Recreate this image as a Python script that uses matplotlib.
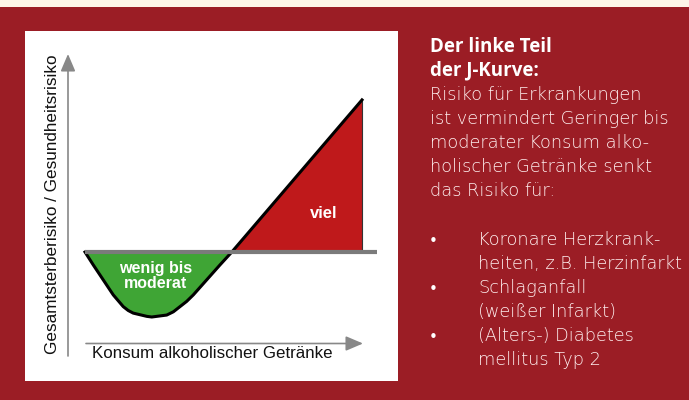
import matplotlib
matplotlib.use("Agg")
import matplotlib.pyplot as plt
from matplotlib.patches import Rectangle

# J-curve (consumption units, risk units; 0 = baseline)
consumption = [0.0, 0.30, 0.66, 1.02, 1.20, 1.38, 1.56, 1.74, 2.23, 2.41, 2.95, 3.19,
               3.43, 3.67, 3.91, 4.39, 4.87, 5.30, 10.0]
risk = [0.0, -0.20, -0.43, -0.66, -0.75, -0.84, -0.90, -0.94, -0.99, -1.0, -0.97, -0.92,
        -0.84, -0.76, -0.66, -0.43, -0.20, 0.0, 2.34]
crossing = 5.30   # where the curve goes back over the baseline

x_label = "Konsum alkoholischer Getränke"
y_label = "Gesamtsterberisiko / Gesundheitsrisiko"
low_label = "wenig bis\nmoderat"
high_label = "viel"

heading = ["Der linke Teil", "der J-Kurve:"]
body = ["Risiko für Erkrankungen", "ist vermindert Geringer bis",
        "moderater Konsum alko-", "holischer Getränke senkt", "das Risiko für:"]
bullets = [["Koronare Herzkrank-", "heiten, z.B. Herzinfarkt"],
           ["Schlaganfall", "(weißer Infarkt)"],
           ["(Alters-) Diabetes", "mellitus Typ 2"]]

BG_RED = "#9b1d25"
CREAM = "#fdf5e8"
GREEN = "#3fa535"
RED = "#bf191b"
GRAY = "#7b7b7b"
ARROW = "#888888"
TEXT = "#fff0f0"

W, H = 689, 400
fig = plt.figure(figsize=(W / 100, H / 100), dpi=100, facecolor=BG_RED)

# layout axes in pixel units
bg = fig.add_axes([0, 0, 1, 1])
bg.set_xlim(0, W)
bg.set_ylim(H, 0)
bg.axis("off")
bg.add_patch(Rectangle((0, 0), W, 6.5, color=CREAM, lw=0))
bg.add_patch(Rectangle((25, 31), 373, 350, color="white", lw=0))

# axis arrows
bg.annotate("", xy=(68, 54), xytext=(68, 356),
            arrowprops=dict(arrowstyle="-|>,head_length=0.75,head_width=0.32",
                            color=ARROW, lw=1.2, mutation_scale=14, shrinkA=0, shrinkB=0))
bg.annotate("", xy=(363, 343.5), xytext=(86, 343.5),
            arrowprops=dict(arrowstyle="-|>,head_length=0.75,head_width=0.32",
                            color=ARROW, lw=1.2, mutation_scale=14, shrinkA=0, shrinkB=0))
bg.text(92, 354, x_label, fontsize=12.2, family="Liberation Sans", color="#111111",
        ha="left", va="center")
bg.text(53, 204, y_label, fontsize=12.3, family="Liberation Sans", color="#111111",
        rotation=90, ha="center", va="center")

# chart axes: consumption 0..10 -> px 85..362, risk 1 unit = 65 px, baseline at py 252
ux, uy = 27.7, 65.0
ax = fig.add_axes([0, 0, 1, 1])
ax.set_xlim(-85 / ux, (W - 85) / ux)
ax.set_ylim(-(H - 252) / uy, 252 / uy)
ax.axis("off")
ax.patch.set_alpha(0)

dip_x = [c for c in consumption if c <= crossing]
dip_y = risk[:len(dip_x)]
ax.fill_between(dip_x, dip_y, 0, color=GREEN, lw=0, zorder=2)
ax.fill([crossing, consumption[-1], consumption[-1]], [0, risk[-1], 0],
        color=RED, lw=0, zorder=2)
ax.plot([consumption[-1], consumption[-1]], [0, risk[-1]], color="#333333", lw=0.8, zorder=3)
ax.plot(consumption, risk, color="black", lw=2.2, solid_joinstyle="round", zorder=4)
ax.plot([0, (377 - 85) / ux], [0, 0], color=GRAY, lw=3, solid_capstyle="butt", zorder=5)

ax.text(2.55, -0.37, low_label, fontsize=11.5, family="Liberation Sans", weight="bold",
        color="white", ha="center", va="center", linespacing=0.95, zorder=6)
ax.text(8.6, 0.6, high_label, fontsize=12, family="Liberation Sans", weight="bold",
        color="white", ha="center", va="center", zorder=6)

# right-hand text block
tx = 430
y = 52
for line in heading:
    bg.text(tx, y, line, fontsize=13.5, family="Open Sans", weight="bold", color="white",
            va="baseline")
    y += 23.8
for line in body:
    bg.text(tx, y, line, fontsize=12.8, family="DejaVu Sans", weight="light", color=TEXT,
            va="baseline")
    y += 24.0
y = 245
for item in bullets:
    bg.text(433, y - 4, "•", fontsize=11, family="DejaVu Sans", color="white",
            ha="center", va="center")
    for line in item:
        bg.text(478, y, line, fontsize=12.8, family="DejaVu Sans", weight="light",
                color=TEXT, va="baseline")
        y += 24.0

fig.savefig("out.png", dpi=100, facecolor=BG_RED)
